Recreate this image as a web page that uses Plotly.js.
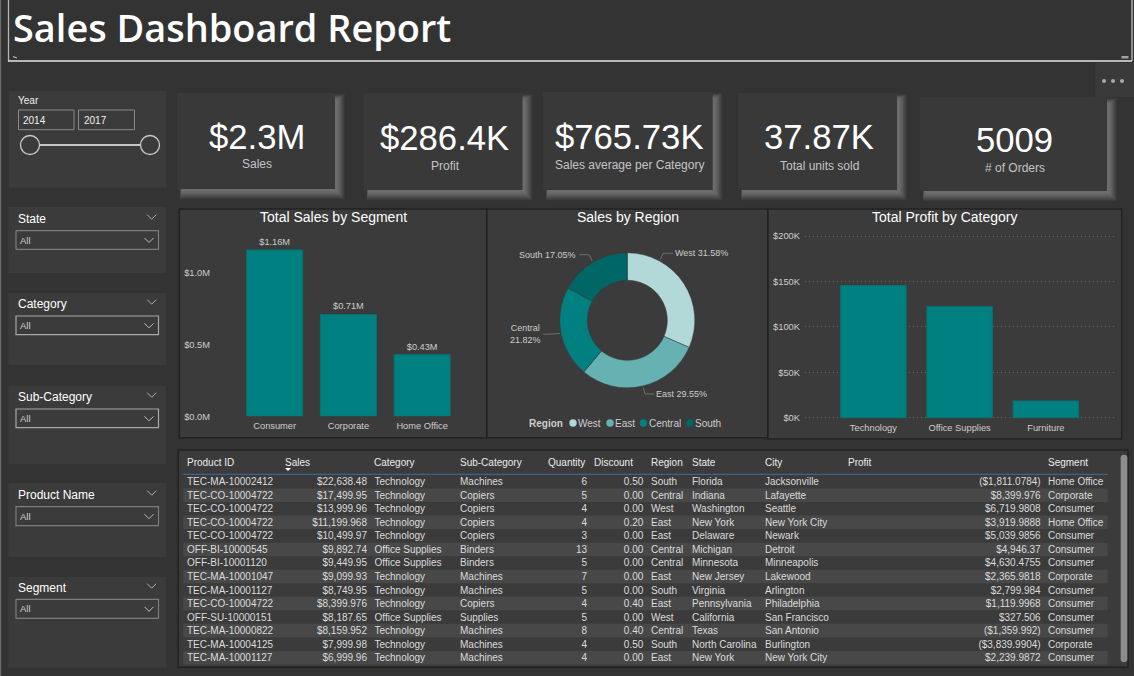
<!DOCTYPE html>
<html><head><meta charset="utf-8">
<script src="https://cdn.plot.ly/plotly-3.0.1.min.js"></script>
<style>html,body{margin:0;padding:0;background:#333;overflow:hidden}#c{width:1134px;height:676px}</style>
</head><body><div id="c"></div>
<script>
// ---------- data ----------
const reportTitle = "Sales Dashboard Report";
const kpiValues = ["$2.3M", "$286.4K", "$765.73K", "37.87K", "5009"];
const kpiLabels = ["Sales", "Profit", "Sales average per Category", "Total units sold", "# of Orders"];
const yearRange = ["2014", "2017"];
const slicerTitles = ["State", "Category", "Sub-Category", "Product Name", "Segment"];

const segments = ["Consumer", "Corporate", "Home Office"];
const segmentSales = [1.16, 0.71, 0.43];
const regions = ["West", "East", "Central", "South"];
const regionShare = [31.58, 29.55, 21.82, 17.05];
const regionColors = ["#B2D8D8", "#66B2B2", "#008080", "#006666"];
const categories = ["Technology", "Office Supplies", "Furniture"];
const categoryProfit = [145450, 122490, 18450];

const tableHeaders = ["Product ID","Sales","Category","Sub-Category","Quantity","Discount","Region","State","City","Profit","Segment"];
const productIds = ["TEC-MA-10002412","TEC-CO-10004722","TEC-CO-10004722","TEC-CO-10004722","TEC-CO-10004722","OFF-BI-10000545","OFF-BI-10001120","TEC-MA-10001047","TEC-MA-10001127","TEC-CO-10004722","OFF-SU-10000151","TEC-MA-10000822","TEC-MA-10004125","TEC-MA-10001127"];
const salesCol = ["$22,638.48","$17,499.95","$13,999.96","$11,199.968","$10,499.97","$9,892.74","$9,449.95","$9,099.93","$8,749.95","$8,399.976","$8,187.65","$8,159.952","$7,999.98","$6,999.96"];
const categoryCol = ["Technology","Technology","Technology","Technology","Technology","Office Supplies","Office Supplies","Technology","Technology","Technology","Office Supplies","Technology","Technology","Technology"];
const subCategoryCol = ["Machines","Copiers","Copiers","Copiers","Copiers","Binders","Binders","Machines","Machines","Copiers","Supplies","Machines","Machines","Machines"];
const quantityCol = ["6","5","4","4","3","13","5","7","5","4","5","8","4","4"];
const discountCol = ["0.50","0.00","0.00","0.20","0.00","0.00","0.00","0.00","0.00","0.40","0.00","0.40","0.50","0.00"];
const regionCol = ["South","Central","West","East","East","Central","Central","East","South","East","West","Central","South","East"];
const stateCol = ["Florida","Indiana","Washington","New York","Delaware","Michigan","Minnesota","New Jersey","Virginia","Pennsylvania","California","Texas","North Carolina","New York"];
const cityCol = ["Jacksonville","Lafayette","Seattle","New York City","Newark","Detroit","Minneapolis","Lakewood","Arlington","Philadelphia","San Francisco","San Antonio","Burlington","New York City"];
const profitCol = ["($1,811.0784)","$8,399.976","$6,719.9808","$3,919.9888","$5,039.9856","$4,946.37","$4,630.4755","$2,365.9818","$2,799.984","$1,119.9968","$327.506","($1,359.992)","($3,839.9904)","$2,239.9872"];
const segmentCol = ["Home Office","Corporate","Consumer","Home Office","Consumer","Consumer","Consumer","Corporate","Consumer","Consumer","Consumer","Consumer","Corporate","Consumer"];

// ---------- helpers ----------
const W = 1134, H = 676;
const FONT = "Liberation Sans, Arial, sans-serif";
const PANEL = "#3b3b3b", PAGE = "#333333", TXT = "#cdcdcd";
const px = x => x / W, py = y => 1 - y / H;
const shapes = [], annotations = [];
function rect(x0, y0, x1, y1, fill, line, lw) {
  shapes.push({type:"rect", xref:"paper", yref:"paper", x0:px(x0), x1:px(x1), y0:py(y0), y1:py(y1),
    fillcolor:fill || "rgba(0,0,0,0)", line:{color:line || "rgba(0,0,0,0)", width:line ? (lw || 1) : 0}, layer:"below"});
}
function poly(pts, color, lw, closed, fill, layer) {
  let d = pts.map((p, i) => (i ? "L" : "M") + px(p[0]) + "," + py(p[1])).join(" ") + (closed ? " Z" : "");
  shapes.push({type:"path", xref:"paper", yref:"paper", path:d, fillcolor:fill || "rgba(0,0,0,0)",
    line:{color:color || "rgba(0,0,0,0)", width:color ? lw : 0}, layer:layer || "below"});
}
function circle(cx, cy, rx, ry, fill, line, lw) {
  shapes.push({type:"circle", xref:"paper", yref:"paper", x0:px(cx - rx), x1:px(cx + rx), y0:py(cy - ry), y1:py(cy + ry),
    fillcolor:fill, line:{color:line || "rgba(0,0,0,0)", width:line ? lw : 0}, layer:"above"});
}
function label(x, y, text, size, color, anchor, opts) {
  const a = anchor || "left";
  const nudge = a === "left" ? -1.5 : a === "right" ? 1 : 0;
  annotations.push(Object.assign({xref:"paper", yref:"paper", x:px(x + nudge), y:py(y), text:text, showarrow:false,
    xanchor:a, yanchor:"middle", borderpad:0, align:a,
    font:{family:FONT, size:size, color:color}}, opts || {}));
}
const chevron = (x, y, c) => poly([[x - 4.5, y - 2.5], [x, y + 2], [x + 4.5, y - 2.5]], c, 1, false, null, "above");

// ---------- title ----------
poly([[8.5, 0], [8.5, 61]], "#b4b4b4", 1.3);
poly([[1132, 0], [1132, 61]], "#8c8c8c", 2);
poly([[8, 61], [1132, 61]], "#e6e6e6", 1.3);
poly([[13, 56.5], [17, 58]], "#d0d0d0", 1);
rect(1121.5, 56, 1128.5, 58.5, "#a0a0a0");
label(13, 27.5, reportTitle, 37.9, "#ffffff", "left", {font:{family:"Open Sans, sans-serif", size:37.9, color:"#fff", weight:600}});
rect(0, 0, 1.2, H, "#6a6a6a");

// ---------- ... box ----------
rect(1095, 63, 1134, 97, "#3a3a3a");
[1104, 1113, 1122].forEach(x => circle(x, 81, 2, 2, "#a8a8a8"));

// ---------- year slicer ----------
rect(8.7, 90.7, 166, 187.7, PANEL);
label(18.5, 100.5, "Year", 10, "#f0f0f0");
rect(18.5, 110, 74, 129.7, null, "#8a8a8a", 1);
rect(78.5, 110, 134.5, 129.7, null, "#8a8a8a", 1);
label(23.6, 120, yearRange[0], 10, "#f0f0f0");
label(84, 120, yearRange[1], 10, "#f0f0f0");
poly([[39, 145], [141, 145]], "#c8c8c8", 2, false, null, "above");
circle(30, 145, 9.5, 9.5, PANEL, "#c8c8c8", 1.3);
circle(150, 145, 9.5, 9.5, PANEL, "#c8c8c8", 1.3);

// ---------- KPI cards ----------
const cards = [[177,93,335,189],[363.6,93,522.5,190],[543,92,712.7,190],[738,93,897,190],[920,97,1107,191]];
const kpiPos = [[257,137,256.5,163.7],[444,137.7,445.6,165.7],[629.5,136.7,629,165],[819,137,819,165.7],[1014,140,1014.5,167.7]];
const glow = [[10,"#393939"],[9,"#404040"],[8,"#484848"],[7,"#505050"],[6,"#585858"],[5,"#5f5f5f"],[4,"#666666"],[2.5,"#6c6c6c"]];
cards.forEach((c, i) => {
  glow.forEach(g => rect(c[0] + 3 + (10 - g[0]) * 0.2, c[1] + 8 - g[0] * 0.7, c[2] + g[0], c[3] + g[0] * 1.05, g[1]));
  rect(c[0], c[1], c[2], c[3], "#393939");
  label(kpiPos[i][0], kpiPos[i][1], kpiValues[i], 34.7, "#ffffff", "center");
  label(kpiPos[i][2], kpiPos[i][3], kpiLabels[i], 12, "#c4c4c4", "center");
});

// ---------- left slicers ----------
const slicers = [[207,273,218.7,230.7,249.3,"#7c7c7c"],[293,365,303.7,316,334.7,"#a8a8a8"],[386,464,396.7,409,427.7,"#a8a8a8"],[483,557,494.7,506.7,525.7,"#7c7c7c"],[576.7,667.7,587.7,599.3,618.3,"#7c7c7c"]];
slicers.forEach((s, i) => {
  rect(8.3, s[0], 166, s[1], PANEL);
  label(18.7, s[2], slicerTitles[i], 12, "#ffffff", "left", {font:{family:FONT, size:12, color:"#fff", weight:500}});
  chevron(151.7, s[2] - 1.5, "#b0b0b0");
  rect(16, s[3], 158.5, s[4], null, s[5], 1.2);
  label(20.7, (s[3] + s[4]) / 2, "All", 9.5, "#d0d0d0");
  chevron(149, (s[3] + s[4]) / 2 + 0.5, "#c0c0c0");
});

// ---------- chart panels ----------
const BORDER = "#232323";
rect(179.3, 209, 486.7, 437.7, PANEL, BORDER, 1.5);
rect(487, 209, 767.7, 437.7, PANEL, BORDER, 1.5);
rect(768, 209, 1121.7, 439, PANEL, BORDER, 1.5);
label(333.7, 217, "Total Sales by Segment", 14, "#fff", "center");
label(627.7, 217, "Sales by Region", 14, "#fff", "center");
label(945, 217, "Total Profit by Category", 14, "#fff", "center");

// ---------- donut labels, leaders, legend ----------
const pct = v => v.toFixed(2) + "%";
label(675.7, 252.7, regions[0] + " " + pct(regionShare[0]), 9, TXT);
label(656.7, 393.7, regions[1] + " " + pct(regionShare[1]), 9, TXT);
label(525, 334, regions[2] + "<br>" + pct(regionShare[2]), 9, TXT, "center");
label(576, 254.7, regions[3] + " " + pct(regionShare[3]), 9, TXT, "right");
const LEAD = "#7a7a7a";
poly([[660,260],[663.3,253.3],[673.3,253.3]], LEAD, 0.8, false, null, "above");
poly([[643.3,387.7],[645,394],[654,394]], LEAD, 0.8, false, null, "above");
poly([[543.3,334.3],[553.3,334],[560,333.3]], LEAD, 0.8, false, null, "above");
poly([[579.3,254.7],[589,254.7],[592.3,261]], LEAD, 0.8, false, null, "above");
label(529.3, 423, "Region", 10, TXT, "left", {font:{family:FONT, size:10, color:TXT, weight:700}});
[[573,578.7],[610,615.3],[643.3,649],[689.7,695]].forEach((p, i) => {
  circle(p[0], 423, 3.7, 3.7, regionColors[i]);
  label(p[1], 423, regions[i], 10, TXT);
});

// ---------- table chrome ----------
rect(178.3, 450, 1128, 667.3, PANEL, BORDER, 1.5);
const rowY0 = 481.7, rowStep = 13.54;
productIds.forEach((_, i) => { if (i % 2) rect(183.3, rowY0 + rowStep * (i - 0.5), 1107.7, rowY0 + rowStep * (i + 0.5), "#484848"); });
poly([[183.3, 474.3], [1107.7, 474.3]], "#3f6f9f", 1);
rect(1120.7, 458, 1127.3, 659, "#8c8c8c");
circle(1124, 458, 3.3, 3.3, "#8c8c8c");
circle(1124, 659, 3.3, 3.3, "#8c8c8c");
poly([[285, 468], [291, 468], [288, 471]], null, 0, true, "#ffffff", "above");

// ---------- table text (one text trace per column) ----------
const colText = [productIds, salesCol, categoryCol, subCategoryCol, quantityCol, discountCol, regionCol, stateCol, cityCol, profitCol, segmentCol];
const colX = [187, 367, 374.5, 460, 587, 643.3, 651, 692, 765, 1040.7, 1048];
const colSide = ["right","left","right","right","left","left","right","right","right","left","right"]; // side of the anchor the text sits on
const headX = [187, 285, 374.5, 460, 548, 594, 651, 692, 765, 848, 1048];
const rowsY = productIds.map((_, i) => rowY0 + 1 + rowStep * i);
const tableTraces = colText.map((vals, c) => ({
  type:"scatter", mode:"text", xaxis:"x3", yaxis:"y3", hoverinfo:"skip", showlegend:false, cliponaxis:false,
  x: vals.map(() => colX[c]), y: rowsY, text: vals, textposition: "middle " + colSide[c],
  textfont:{family:FONT, size:10, color:"#dcdcdc"}
}));
tableHeaders.forEach((h, i) => label(headX[i], 462.4, h, 10, "#ececec"));

// ---------- charts ----------
const barLine = {color:"#0b6f70", width:1};
const bar1 = {type:"bar", x:segments, y:segmentSales, xaxis:"x", yaxis:"y", marker:{color:"#008080", line:barLine},
  text:segmentSales.map(v => "$" + v.toFixed(2) + "M"), textposition:"outside", cliponaxis:false,
  textfont:{family:FONT, size:9.2, color:TXT}, hoverinfo:"x+y", showlegend:false};
const bar2 = {type:"bar", x:categories, y:categoryProfit, xaxis:"x2", yaxis:"y2", marker:{color:"#008080", line:barLine},
  hoverinfo:"x+y", showlegend:false};
const donut = {type:"pie", labels:regions, values:regionShare, sort:false, direction:"clockwise", rotation:0, hole:0.593,
  textinfo:"none", marker:{colors:regionColors, line:{color:"#3b3b3b", width:0.5}}, showlegend:false, hoverinfo:"label+percent",
  domain:{x:[px(627.3 - 67.5), px(627.3 + 67.5)], y:[py(320.3 + 67.5), py(320.3 - 67.5)]}};

const tick = {family:FONT, size:9.3, color:TXT};
const layout = {
  width:W, height:H, margin:{l:0, r:0, t:0, b:0, pad:0}, paper_bgcolor:PAGE, plot_bgcolor:"rgba(0,0,0,0)",
  bargap:0.24, showlegend:false, shapes:shapes, annotations:annotations, font:{family:FONT},
  xaxis:{domain:[px(214), px(459)], range:[-0.823, 2.5], showgrid:false, zeroline:false, showline:false, ticks:"", tickfont:tick, ticklen:0, anchor:"y", ticklabelstandoff:2},
  yaxis:{domain:[py(416.3), py(230)], range:[0, 1.299], tickvals:[0, 0.5, 1.0], ticktext:["$0.0M","$0.5M","$1.0M"], showgrid:false, zeroline:false, showline:false, tickfont:tick, anchor:"x", ticks:"", automargin:false, ticklabelstandoff:3},
  xaxis2:{domain:[px(805), px(1117)], range:[-0.793, 2.826], showgrid:false, zeroline:false, showline:false, ticks:"", tickfont:tick, anchor:"y2", ticklabelstandoff:1},
  yaxis2:{domain:[py(419.97), py(233.73)], range:[-2500, 202500], tickvals:[0, 50000, 100000, 150000, 200000], ticktext:["$0K","$50K","$100K","$150K","$200K"], showgrid:true, gridcolor:"#666666", griddash:"1px,3px", gridwidth:1, zeroline:false, showline:false, tickfont:tick, anchor:"x2", ticks:"", ticklabelstandoff:4},
  xaxis3:{domain:[0, 1], range:[0, W], visible:false, fixedrange:true, anchor:"y3"},
  yaxis3:{domain:[0, 1], range:[H, 0], visible:false, fixedrange:true, anchor:"x3"}
};
Plotly.newPlot("c", [bar1, bar2, donut].concat(tableTraces), layout, {displayModeBar:false, responsive:false});
</script></body></html>
